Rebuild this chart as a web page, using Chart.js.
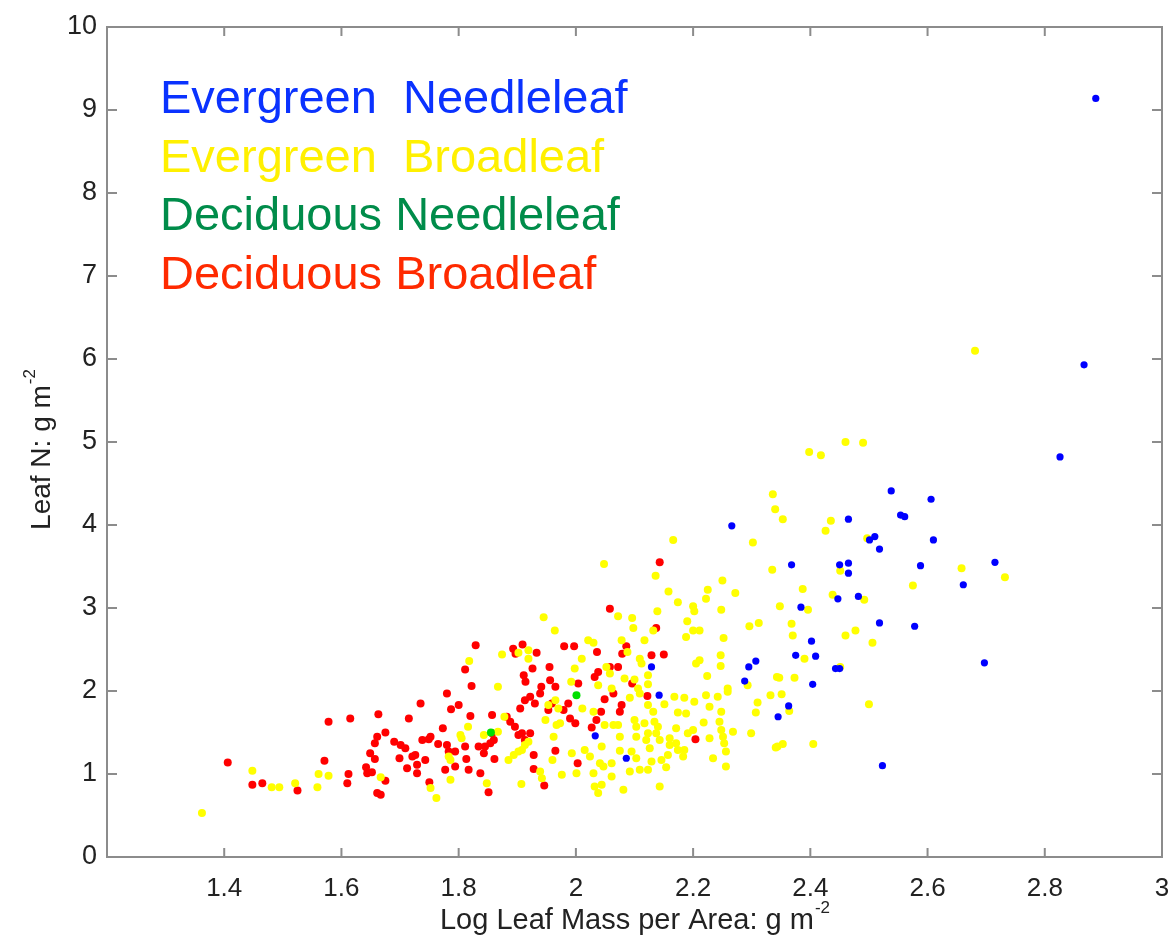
<!DOCTYPE html>
<html>
<head>
<meta charset="utf-8">
<script src="https://cdn.jsdelivr.net/npm/chart.js@4/dist/chart.umd.min.js"></script>
<style>
  body { margin: 0; background: #fff; }
  #chart { display: block; }
</style>
</head>
<body>
<canvas id="chart" width="1171" height="943"></canvas>
<script>
// axis ticks
const xTicks = [1.4, 1.6, 1.8, 2, 2.2, 2.4, 2.6, 2.8, 3];
const yTicks = [0, 1, 2, 3, 4, 5, 6, 7, 8, 9, 10];

const groupNames = ["Evergreen  Needleleaf", "Evergreen  Broadleaf", "Deciduous Needleleaf", "Deciduous Broadleaf"];

// [log LMA, leaf N]
const evergreenNeedleleaf = [
    [2.887, 9.14], [2.867, 5.93], [2.826, 4.82], [2.538, 4.41], [2.606, 4.31], [2.554, 4.12], [2.561, 4.10],
    [2.465, 4.07], [2.266, 3.99], [2.501, 3.82], [2.510, 3.86], [2.518, 3.71], [2.610, 3.82], [2.368, 3.52],
    [2.450, 3.52], [2.465, 3.54], [2.465, 3.42], [2.715, 3.55], [2.588, 3.51], [2.661, 3.28], [2.447, 3.11],
    [2.482, 3.14], [2.384, 3.01], [2.518, 2.82], [2.578, 2.78], [2.402, 2.60], [2.375, 2.43], [2.409, 2.42],
    [2.307, 2.36], [2.295, 2.29], [2.288, 2.12], [2.404, 2.08], [2.443, 2.27], [2.450, 2.27], [2.697, 2.34],
    [2.363, 1.82], [2.345, 1.69], [2.129, 2.29], [2.142, 1.95], [2.033, 1.46], [2.086, 1.19], [2.523, 1.10]
];

const evergreenBroadleaf = [
    [1.362, 0.53], [1.448, 1.04], [1.481, 0.84], [1.494, 0.84], [1.521, 0.89], [1.561, 1.00], [1.578, 0.98], [1.559, 0.84],
    [1.945, 2.89], [1.964, 2.73], [1.818, 2.36], [1.874, 2.44], [1.902, 2.46], [1.919, 2.49], [1.919, 2.39], [1.998, 2.27],
    [1.867, 2.05], [1.992, 2.11],
    [1.816, 1.57], [1.803, 1.47], [1.805, 1.43], [1.786, 1.17], [1.786, 0.93], [1.752, 0.83], [1.762, 0.71], [1.848, 0.89],
    [1.867, 1.51], [1.878, 1.69], [1.885, 1.17], [1.894, 1.23], [1.902, 1.27], [1.908, 1.29], [1.913, 1.35], [1.919, 1.39],
    [1.907, 0.88], [1.939, 1.03], [1.942, 0.95], [1.962, 1.45], [1.960, 1.17], [1.976, 0.99], [1.993, 1.25], [2.001, 1.01],
    [1.967, 1.59], [1.973, 1.61], [1.948, 1.65], [1.953, 1.83], [1.965, 1.89], [1.970, 1.79], [1.667, 0.96], [1.843, 1.47],
    [1.783, 1.21],
    [2.166, 3.82], [2.302, 3.79], [2.048, 3.53], [2.136, 3.39], [2.158, 3.20], [2.174, 3.07], [2.200, 3.02], [2.202, 2.96],
    [2.222, 3.11], [2.225, 3.22], [2.250, 3.33], [2.272, 3.18], [2.335, 3.46], [2.248, 2.98], [2.190, 2.84], [2.200, 2.73],
    [2.211, 2.73], [2.188, 2.65], [2.139, 2.96], [2.096, 2.88], [2.072, 2.90], [2.098, 2.76], [2.132, 2.73], [2.252, 2.64],
    [2.296, 2.78], [2.312, 2.82], [2.117, 2.61], [2.078, 2.61], [2.021, 2.61], [2.030, 2.58], [2.088, 2.47], [2.010, 2.39],
    [2.109, 2.39], [2.112, 2.33], [2.205, 2.33], [2.211, 2.37], [2.247, 2.43], [2.247, 2.30], [2.224, 2.18], [2.343, 2.17],
    [2.083, 2.15], [2.100, 2.14], [2.123, 2.19], [2.123, 2.08], [2.038, 2.07], [2.052, 2.29], [2.058, 2.21], [2.293, 2.07],
    [2.259, 2.03], [2.106, 2.03], [2.061, 2.03],
    [2.092, 1.92], [2.109, 1.97], [2.168, 1.93], [2.185, 1.92], [2.202, 1.87], [2.222, 1.95], [2.242, 1.93], [2.259, 1.99],
    [2.310, 1.86], [2.307, 1.74], [2.332, 1.95], [2.011, 1.79], [2.030, 1.75], [2.123, 1.83], [2.132, 1.75], [2.151, 1.84],
    [2.174, 1.74], [2.188, 1.73], [2.228, 1.81], [2.248, 1.75], [2.100, 1.65], [2.117, 1.61], [2.134, 1.63], [2.140, 1.57],
    [2.064, 1.59], [2.049, 1.59], [2.072, 1.59], [2.103, 1.57], [2.123, 1.49], [2.137, 1.49], [2.171, 1.55], [2.200, 1.53],
    [2.218, 1.62], [2.245, 1.63], [2.248, 1.53], [2.268, 1.51], [2.299, 1.49], [2.075, 1.45], [2.103, 1.45], [2.120, 1.41],
    [2.143, 1.41], [2.160, 1.43], [2.191, 1.49], [2.228, 1.43], [2.251, 1.45], [2.253, 1.37], [2.171, 1.37], [2.015, 1.29],
    [2.044, 1.33], [2.075, 1.28], [2.095, 1.27], [2.126, 1.31], [2.160, 1.35], [2.174, 1.29], [2.185, 1.29], [2.256, 1.27],
    [2.344, 1.33], [2.024, 1.21], [2.041, 1.13], [2.061, 1.13], [2.103, 1.19], [2.129, 1.15], [2.146, 1.17], [2.157, 1.23],
    [2.183, 1.21], [2.234, 1.19], [2.047, 1.09], [2.092, 1.03], [2.109, 1.05], [2.123, 1.05], [2.154, 1.08], [2.030, 1.01],
    [2.061, 0.97], [2.256, 1.09], [2.044, 0.87], [2.081, 0.81], [2.143, 0.85], [2.038, 0.77], [2.032, 0.85],
    [2.336, 4.37], [2.340, 4.19], [2.353, 4.07], [2.398, 4.88], [2.418, 4.84], [2.460, 5.00], [2.490, 4.99], [2.435, 4.05],
    [2.426, 3.93], [2.497, 3.84], [2.348, 3.02], [2.368, 2.81], [2.370, 2.67], [2.387, 3.23], [2.396, 2.98], [2.438, 3.16],
    [2.492, 3.10], [2.451, 3.45], [2.575, 3.27], [2.460, 2.67], [2.477, 2.73], [2.506, 2.58], [2.347, 2.16], [2.373, 2.16],
    [2.390, 2.39], [2.451, 2.29], [2.351, 1.96], [2.364, 1.76], [2.500, 1.84], [2.353, 1.36], [2.405, 1.36], [2.341, 1.32],
    [2.681, 6.10], [2.658, 3.48], [2.732, 3.37]
];

const deciduousNeedleleaf = [[2.001, 1.95], [1.855, 1.50]];

const deciduousBroadleaf = [
    [1.406, 1.14], [1.448, 0.87], [1.465, 0.89], [1.525, 0.80], [1.578, 1.63], [1.615, 1.67], [1.663, 1.72], [1.571, 1.16],
    [1.612, 1.00], [1.610, 0.89], [1.661, 1.45], [1.657, 1.37], [1.649, 1.25], [1.657, 1.18], [1.642, 1.08], [1.644, 1.01],
    [1.652, 1.02], [1.661, 0.77], [1.667, 0.75],
    [1.829, 2.55], [1.811, 2.26], [1.822, 2.06], [1.893, 2.51], [1.897, 2.45], [1.909, 2.56], [1.933, 2.46], [1.926, 2.27],
    [1.911, 2.19], [1.914, 2.11], [1.955, 2.29], [1.956, 2.13], [1.941, 2.05], [1.980, 2.54], [1.997, 2.54], [1.965, 2.05],
    [1.780, 1.97], [1.735, 1.85], [1.787, 1.78], [1.800, 1.83], [1.715, 1.67], [1.820, 1.70], [1.857, 1.71], [1.675, 1.50],
    [1.690, 1.39], [1.701, 1.35], [1.709, 1.31], [1.738, 1.41], [1.749, 1.42], [1.752, 1.45], [1.765, 1.36], [1.773, 1.55],
    [1.780, 1.35], [1.783, 1.27], [1.794, 1.27], [1.811, 1.33], [1.834, 1.33], [1.845, 1.33], [1.854, 1.37], [1.860, 1.41],
    [1.857, 1.49], [1.843, 1.25], [1.721, 1.21], [1.726, 1.23], [1.699, 1.19], [1.743, 1.17], [1.729, 1.11], [1.712, 1.07],
    [1.729, 1.01], [1.777, 1.05], [1.794, 1.09], [1.813, 1.18], [1.817, 1.05], [1.837, 1.01], [1.861, 1.18], [1.675, 0.92],
    [1.750, 0.90], [1.851, 0.78], [1.928, 1.23], [1.928, 1.06], [1.946, 0.86], [1.965, 1.28], [1.922, 1.49], [1.902, 1.47],
    [1.888, 1.63], [1.882, 1.69], [1.896, 1.57], [1.908, 1.49], [1.913, 1.41], [1.905, 1.79], [1.913, 1.89], [1.922, 1.93],
    [1.930, 1.85], [1.939, 1.97], [1.953, 1.77], [1.959, 1.85], [1.979, 1.77], [1.990, 1.67], [1.999, 1.61], [2.003, 1.13],
    [1.987, 1.85],
    [2.143, 3.55], [2.058, 2.99], [2.137, 2.76], [2.086, 2.54], [2.079, 2.45], [2.036, 2.47], [2.129, 2.43], [2.150, 2.44],
    [2.072, 2.29], [2.058, 2.29], [2.038, 2.23], [2.032, 2.17], [2.096, 2.09], [2.004, 2.09],
    [2.049, 1.90], [2.064, 1.97], [2.122, 1.94], [2.078, 1.83], [2.075, 1.75], [2.043, 1.75], [2.035, 1.65], [2.027, 1.56],
    [2.204, 1.42]
];

const pointColors = ["#0000ff", "#ffff00", "#00e000", "#ff0000"];
const labelColors = ["#0a32ff", "#fff000", "#008c4a", "#ff2a00"];
const FONT = '"Liberation Sans", Arial, sans-serif';

function toPoints(arr) {
    return arr.map(p => ({ x: p[0], y: p[1] }));
}

// box, inward ticks, axis titles and the coloured group labels
const decorations = {
    id: 'decorations',
    afterDraw(chart) {
        const ctx = chart.ctx;
        const a = chart.chartArea;
        const xs = chart.scales.x, ys = chart.scales.y;
        ctx.save();
        ctx.strokeStyle = '#8c8c8c';
        ctx.lineWidth = 2;
        ctx.strokeRect(a.left, a.top, a.right - a.left, a.bottom - a.top);
        ctx.beginPath();
        xTicks.forEach(v => {
            const p = xs.getPixelForValue(v);
            ctx.moveTo(p, a.bottom); ctx.lineTo(p, a.bottom - 9);
            ctx.moveTo(p, a.top); ctx.lineTo(p, a.top + 9);
        });
        yTicks.forEach(v => {
            const p = ys.getPixelForValue(v);
            ctx.moveTo(a.left, p); ctx.lineTo(a.left + 10, p);
            ctx.moveTo(a.right, p); ctx.lineTo(a.right - 10, p);
        });
        ctx.stroke();

        // axis titles with superscript
        ctx.fillStyle = '#222';
        ctx.textBaseline = 'alphabetic';
        ctx.textAlign = 'left';
        function titleWithSup(text, sup, cx, baseY, size) {
            ctx.font = size + 'px ' + FONT;
            const w1 = ctx.measureText(text).width;
            ctx.font = Math.round(size * 0.6) + 'px ' + FONT;
            const w2 = ctx.measureText(sup).width;
            const x0 = cx - (w1 + w2) / 2;
            ctx.font = size + 'px ' + FONT;
            ctx.fillText(text, x0, baseY);
            ctx.font = Math.round(size * 0.6) + 'px ' + FONT;
            ctx.fillText(sup, x0 + w1 + 1, baseY - size * 0.55);
        }
        titleWithSup('Log Leaf Mass per Area: g m', '-2', (a.left + a.right) / 2, 929, 29);
        ctx.save();
        ctx.translate(50, (a.top + a.bottom) / 2 + 8);
        ctx.rotate(-Math.PI / 2);
        titleWithSup('Leaf N: g m', '-2', 0, 0, 28);
        ctx.restore();

        // group labels
        ctx.font = '47px ' + FONT;
        groupNames.forEach((name, i) => {
            ctx.fillStyle = labelColors[i];
            ctx.fillText(name, 160, 113 + i * 58.5);
        });
        ctx.restore();
    }
};

const datasets = [evergreenNeedleleaf, deciduousNeedleleaf, evergreenBroadleaf, deciduousBroadleaf];
const colorIdx = [0, 2, 1, 3];

new Chart(document.getElementById('chart'), {
    type: 'scatter',
    data: {
        datasets: datasets.map((d, i) => ({
            label: groupNames[colorIdx[i]],
            data: toPoints(d),
            backgroundColor: pointColors[colorIdx[i]],
            borderWidth: 0,
            pointRadius: colorIdx[i] === 0 ? 3.6 : 4,
            pointHoverRadius: 4
        }))
    },
    options: {
        responsive: false,
        animation: false,
        layout: { padding: { top: 27, right: 9, left: 0, bottom: 0 } },
        plugins: { legend: { display: false }, tooltip: { enabled: false } },
        scales: {
            x: {
                type: 'linear',
                min: 1.2,
                max: 3,
                afterBuildTicks: s => { s.ticks = xTicks.map(v => ({ value: v })); },
                afterFit: s => { s.height = 86; s.paddingRight = 0; s.paddingLeft = 0; },
                grid: { display: false },
                border: { display: false },
                ticks: {
                    padding: 8,
                    color: '#222',
                    font: { family: FONT, size: 26 },
                    maxRotation: 0,
                    autoSkip: false,
                    callback: v => String(v)
                }
            },
            y: {
                type: 'linear',
                min: 0,
                max: 10,
                afterBuildTicks: s => { s.ticks = yTicks.map(v => ({ value: v })); },
                afterFit: s => { s.width = 107; s.paddingTop = 0; s.paddingBottom = 0; },
                grid: { display: false },
                border: { display: false },
                ticks: {
                    padding: 2,
                    color: '#222',
                    font: { family: FONT, size: 27 },
                    autoSkip: false,
                    callback: v => String(v)
                }
            }
        }
    },
    plugins: [decorations]
});
</script>
</body>
</html>
